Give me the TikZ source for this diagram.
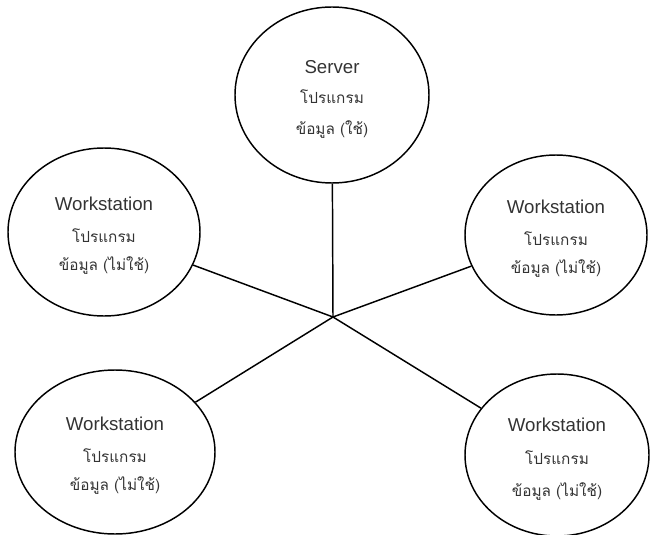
\documentclass[tikz,border=0pt]{standalone}
\usepackage{fontspec}
\setmainfont{Liberation Sans}
\newfontfamily\thaifont[Script=Thai]{Loma}
\usetikzlibrary{shapes.geometric}

\begin{document}
\begin{tikzpicture}[x=0.75pt,y=-0.75pt,
  host/.style 2 args={draw,line width=1.1pt,ellipse,inner sep=0pt,align=center,
    minimum width=#1,minimum height=#2,text=black!80,font=\fontsize{14}{17}\selectfont},
  link/.style={line width=1.1pt}]
          %\draw[help lines] (0,0) grid (650,535);
          \useasboundingbox (0,0) rectangle (650,535);
          \newcommand\thaitext[1]{{\thaifont\fontsize{11.5}{17}\selectfont #1}}
          \newcommand\toprule{\rule{0pt}{16pt}}
          \coordinate (hub) at (333,317);
          \node[host={145.5pt}{132pt}] (server) at (332,95)
            {\toprule Server\\[6pt]\thaitext{โปรแกรม}\\[6pt]\thaitext{ข้อมูล (ใช้)}};
          \node[host={144pt}{126pt}] (wsA) at (104,232)
            {\toprule Workstation\\[7pt]\thaitext{โปรแกรม}\\[4pt]\thaitext{ข้อมูล (ไม่ใช้)}};
          \node[host={136.5pt}{120pt}] (wsB) at (556,235)
            {\toprule Workstation\\[7pt]\thaitext{โปรแกรม}\\[4pt]\thaitext{ข้อมูล (ไม่ใช้)}};
          \node[host={150pt}{123pt}] (wsC) at (115,452)
            {\toprule Workstation\\[7pt]\thaitext{โปรแกรม}\\[4pt]\thaitext{ข้อมูล (ไม่ใช้)}};
          \node[host={138pt}{121.5pt}] (wsD) at (557,455)
            {\toprule Workstation\\[8pt]\thaitext{โปรแกรม}\\[7pt]\thaitext{ข้อมูล (ไม่ใช้)}};
          \draw[link] (hub) -- (server);
          \draw[link] (hub) -- (wsA);
          \draw[link] (hub) -- (wsB);
          \draw[link] (hub) -- (wsC);
          \draw[link] (hub) -- (wsD);
\end{tikzpicture}
\end{document}
